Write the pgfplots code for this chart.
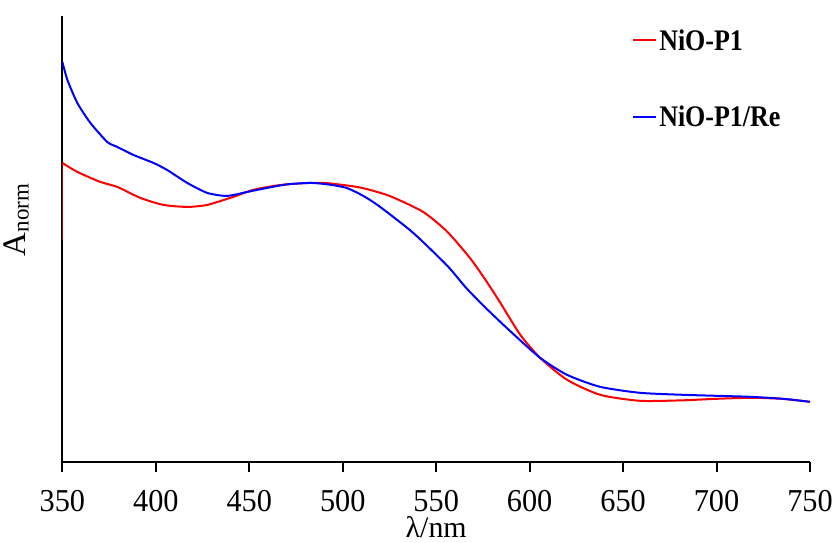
\documentclass[border=0pt]{standalone}
\usepackage{fontspec}
\setmainfont{Liberation Serif}
\newfontfamily\cond[FakeStretch=0.87]{Liberation Serif}
\newfontfamily\tcond[FakeStretch=0.95]{Liberation Serif}
\usepackage{pgfplots}
\pgfplotsset{compat=1.18}
\begin{document}
\begin{tikzpicture}
\begin{axis}[
  scale only axis,
  width=748bp, height=446bp,
  xmin=350, xmax=750, ymin=0, ymax=446,
  axis x line=bottom, axis y line=left,
  axis line style={-, line width=2bp, black},
  xtick={350,400,...,750}, ytick=\empty,
  tick align=outside,
  major tick length=10bp,
  every tick/.style={black, line width=2bp},
  /pgf/number format/assume math mode=true,
  ticklabel style={font=\tcond\fontsize{32}{34}\selectfont},
  xticklabel style={yshift=-18bp, inner sep=0pt, text depth=0pt},
  xlabel={\fontsize{30}{32}\selectfont λ/nm},
  xlabel style={at={(axis description cs:0.5,0)}, anchor=base, yshift=-76bp, inner sep=0pt, text depth=0pt},
  ylabel={\fontsize{33}{35}\selectfont A\textsubscript{norm}},
  ylabel style={at={(axis description cs:-0.04,0.543)}, anchor=south},
  legend style={draw=none, fill=none, at={(axis description cs:0.762,0.975)}, anchor=north west,
    font=\cond\fontsize{30}{32}\selectfont\bfseries, row sep=50bp, inner sep=0pt,
    /tikz/every even column/.append style={column sep=2bp}},
  legend cell align=left,
  legend image code/.code={\draw[#1, line width=2bp] (0bp,0bp) -- (23bp,0bp);},
]
\coordinate (o) at (axis cs:350,0);
\addplot[red, line width=2bp, smooth, tension=0.4] coordinates {
(350,299)(358,290)(370.3,280)(379.4,275)(391.7,264)(404,257)(416.8,255)(427.5,257)
(441.4,265)(452,272)(465,276.5)(477,278.5)(490,279)(509,274.5)(525,266)(543,250)(556,230)(568,204)
(576,183)(584,160)(595,127)(605.6,104)(620,82)(637.7,67)(659,61)(682,61.5)(700,63)(718,64)(735,63)(750,60)
};
\addlegendentry{NiO-P1}
\addplot[blue, line width=2bp, smooth, tension=0.4] coordinates {
(350,400)(352.7,382)(358,359)(365,339)(374,320)(379.4,315)(388,307)(398.7,299)(406,292)
(416.8,279)(427.5,269)(438,266)(449,270)(459.6,274)(470,277.5)(482.6,279)(492,277.5)(502,274)
(511,266)(520,255)(537.7,229)(556,196)(566,174)(577,153)(590,130)(605.6,104)(620,87)(637.7,75)
(659,69)(682,67)(700,66)(718,65)(735.6,63)(750,60)
};
\addlegendentry{NiO-P1/Re}
\addplot[red, line width=2bp, forget plot] coordinates {(350,222)(350,299)};
\end{axis}
\path (o) ++(-62bp,-81bp) rectangle ++(837bp,543bp);
\end{tikzpicture}
\end{document}
